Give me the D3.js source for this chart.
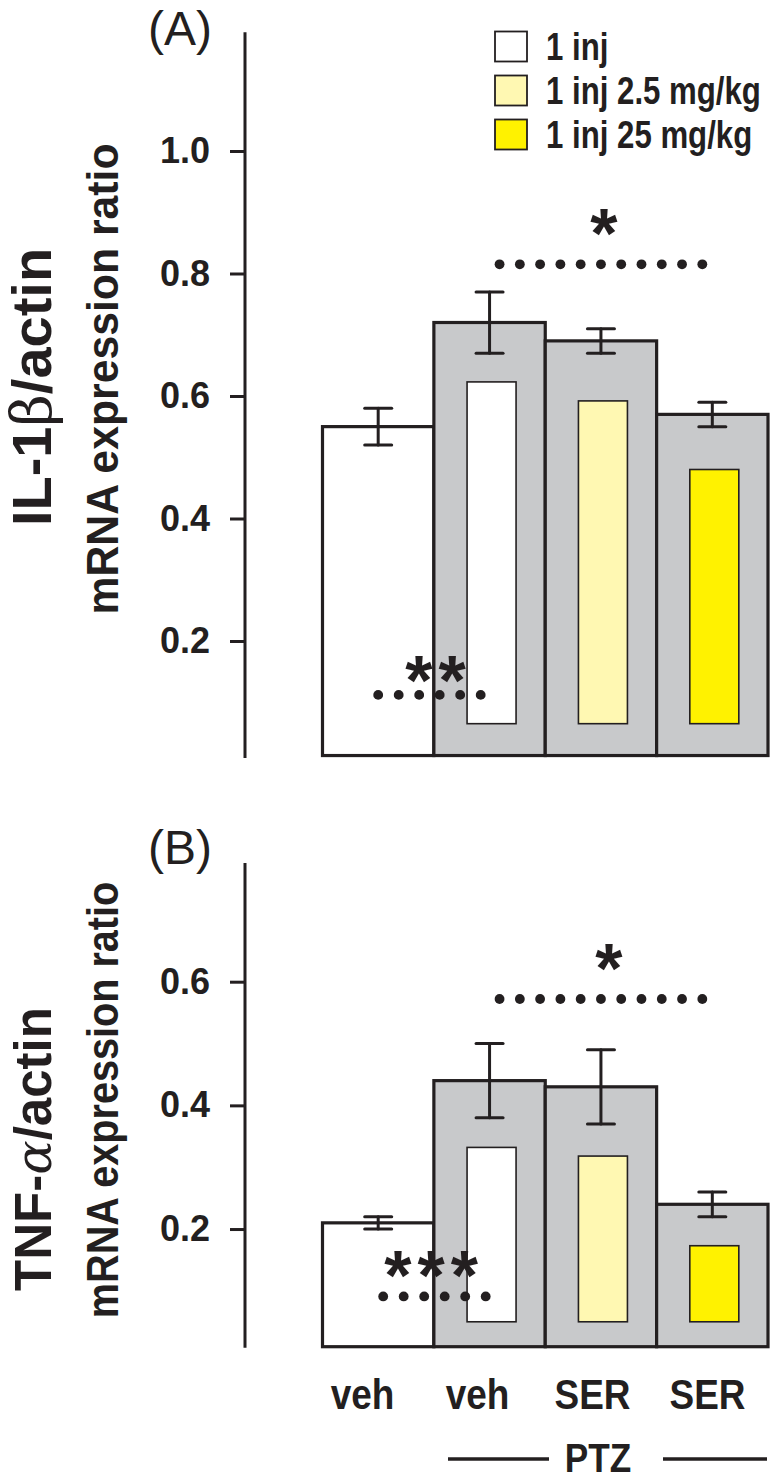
<!DOCTYPE html>
<html>
<head>
<meta charset="utf-8">
<script src="https://cdn.jsdelivr.net/npm/d3@7/dist/d3.min.js"></script>
<style>
  html, body { margin: 0; padding: 0; background: #fff; }
  svg { display: block; }
  text { font-family: "Liberation Sans", Arial, sans-serif; fill: #231f20; }
</style>
</head>
<body>
<div id="chart"></div>
<script>
// ---- Data
const groups = ['g1', 'g2', 'g3', 'g4'];
const groupLabels = ['veh', 'veh', 'SER', 'SER'];
const groupKind = ['control', 'ptz', 'ptz', 'ptz'];
const innerFill = [null, 'white', 'light', 'yellow'];

const il1bMean = [0.55, 0.72, 0.69, 0.57];
const il1bSem = [0.03, 0.05, 0.02, 0.02];
const il1bInnerTop = [null, 0.623, 0.592, 0.480];
const il1bInnerBase = 0.065;

const tnfMean = [0.21, 0.44, 0.43, 0.24];
const tnfSem = [0.01, 0.06, 0.06, 0.02];
const tnfInnerTop = [null, 0.332, 0.318, 0.173];
const tnfInnerBase = 0.05;

const ticksA = [0.2, 0.4, 0.6, 0.8, 1.0];
const ticksB = [0.2, 0.4, 0.6];

const legendLabels = ['1 inj', '1 inj 2.5 mg/kg', '1 inj 25 mg/kg'];
const legendKeys = ['white', 'light', 'yellow'];

// significance marks: level in data units
const sigA = [{ text: '**', level: 0.112, kind: 'low' }, { text: '*', level: 0.815, kind: 'high' }];
const sigB = [{ text: '***', level: 0.091, kind: 'low' }, { text: '*', level: 0.572, kind: 'high' }];

// ---- Styles
const ink = '#231f20';
const colors = { white: '#ffffff', light: '#fff8b2', yellow: '#fff200', gray: '#c8c9cb' };

const W = 774, H = 1481;
const svg = d3.select('#chart').append('svg').attr('width', W).attr('height', H);

const axisX = 245;
const x = d3.scaleBand().domain(groups).range([322.5, 768]).padding(0);
const xLabel = d3.scaleBand().domain(groups).range([305, 765]).padding(0);

function narrowText(g, str, tx, ty, size, sx, anchor) {
    return g.append('text')
        .attr('transform', `translate(${tx},${ty}) scale(${sx},1)`)
        .attr('text-anchor', anchor || 'middle')
        .style('font-size', `${size}px`)
        .style('font-weight', 'bold')
        .text(str);
}

function panel(cfg) {
    const y = d3.scaleLinear().domain(cfg.domain).range(cfg.range);
    const g = svg.append('g');

    // ---- Axis
    g.append('line')
        .attr('x1', axisX).attr('x2', axisX)
        .attr('y1', y(cfg.axisMin)).attr('y2', y(cfg.axisMax))
        .attr('stroke', ink).attr('stroke-width', 3);

    const ax = g.append('g')
        .attr('transform', `translate(${axisX},0)`)
        .call(d3.axisLeft(y).tickValues(cfg.ticks).tickSize(15).tickPadding(20).tickFormat(d3.format('.1f')));
    ax.select('.domain').remove();
    ax.selectAll('.tick line').attr('stroke', ink).attr('stroke-width', 3);
    ax.selectAll('.tick text')
        .attr('fill', ink)
        .style('font-family', '"Liberation Sans", Arial, sans-serif')
        .style('font-size', '36px')
        .style('font-weight', 'bold');

    // ---- Outer bars
    const base = y(cfg.baseline);
    g.selectAll('.bar')
        .data(groups)
        .join('rect')
        .attr('class', 'bar')
        .attr('x', d => x(d))
        .attr('width', x.bandwidth())
        .attr('y', (d, i) => y(cfg.mean[i]))
        .attr('height', (d, i) => base - y(cfg.mean[i]))
        .attr('fill', (d, i) => groupKind[i] === 'control' ? colors.white : colors.gray)
        .attr('stroke', ink)
        .attr('stroke-width', 3.2);

    // ---- Inner bars
    const innerW = 49;
    g.selectAll('.inner')
        .data(groups.filter((d, i) => cfg.innerTop[i] !== null))
        .join('rect')
        .attr('class', 'inner')
        .attr('x', d => x(d) + x.bandwidth() / 2 - innerW / 2 + 2)
        .attr('width', innerW)
        .attr('y', d => y(cfg.innerTop[groups.indexOf(d)]))
        .attr('height', d => y(cfg.innerBase) - y(cfg.innerTop[groups.indexOf(d)]))
        .attr('fill', d => colors[innerFill[groups.indexOf(d)]])
        .attr('stroke', ink)
        .attr('stroke-width', 1.6);

    // ---- Error bars
    const capW = 27;
    const eb = g.selectAll('.err').data(groups).join('g').attr('class', 'err')
        .attr('stroke', ink).attr('stroke-width', 3).attr('stroke-linecap', 'round');
    eb.append('line')
        .attr('x1', d => x(d) + x.bandwidth() / 2).attr('x2', d => x(d) + x.bandwidth() / 2)
        .attr('y1', (d, i) => y(cfg.mean[i] + cfg.sem[i])).attr('y2', (d, i) => y(cfg.mean[i] - cfg.sem[i]));
    eb.append('line')
        .attr('x1', d => x(d) + x.bandwidth() / 2 - capW / 2).attr('x2', d => x(d) + x.bandwidth() / 2 + capW / 2)
        .attr('y1', (d, i) => y(cfg.mean[i] + cfg.sem[i])).attr('y2', (d, i) => y(cfg.mean[i] + cfg.sem[i]));
    eb.append('line')
        .attr('x1', d => x(d) + x.bandwidth() / 2 - capW / 2).attr('x2', d => x(d) + x.bandwidth() / 2 + capW / 2)
        .attr('y1', (d, i) => y(cfg.mean[i] - cfg.sem[i])).attr('y2', (d, i) => y(cfg.mean[i] - cfg.sem[i]));

    // ---- Significance marks: dotted line with asterisks above it
    cfg.sig.forEach(s => {
        const yy = y(s.level);
        let xs;
        if (s.kind === 'low') {
            const x0 = x('g1') + x.bandwidth() / 2 + cfg.lowShift;
            xs = d3.range(6).map(k => x0 + k * 20.5);
        } else {
            const x0 = x('g2') + x.bandwidth() / 2 + 10;
            const x1 = x('g4') + x.bandwidth() / 2 - 10;
            xs = d3.range(11).map(k => x0 + k * (x1 - x0) / 10);
        }
        g.selectAll(null).data(xs).join('circle')
            .attr('cx', d => d).attr('cy', yy).attr('r', 4.9).attr('fill', ink);

        const star = g.append('text')
            .style('font-size', '70px')
            .style('font-weight', 'bold')
            .text(s.text);
        if (s.kind === 'low') {
            star.attr('x', xs[0] + cfg.starShift).attr('y', yy + cfg.starDrop)
                .attr('text-anchor', 'start')
                .style('letter-spacing', '6px');
        } else {
            star.attr('x', d3.mean(xs) + cfg.highShift).attr('y', yy - 6)
                .attr('text-anchor', 'middle');
        }
    });

    // ---- Panel letter
    g.append('text')
        .attr('x', 148).attr('y', cfg.letterY)
        .style('font-size', '48px')
        .text(cfg.letter);

    // ---- Y titles
    const t = g.append('text')
        .attr('transform', `translate(51,${cfg.titleY}) rotate(-90)`)
        .attr('text-anchor', 'middle')
        .style('font-size', `${cfg.titleSize}px`)
        .style('font-weight', 'bold');
    t.append('tspan').text(cfg.titleParts[0]);
    t.append('tspan').style('font-weight', 'normal').style('font-style', cfg.greekItalic ? 'italic' : 'normal')
        .style('font-family', '"DejaVu Serif", serif').text(cfg.titleParts[1]);
    t.append('tspan').text(cfg.titleParts[2]);

    g.append('text')
        .attr('transform', `translate(118,${cfg.subY}) rotate(-90) scale(${cfg.subScale},1)`)
        .attr('text-anchor', 'middle')
        .style('font-size', '45px')
        .style('font-weight', 'bold')
        .text('mRNA expression ratio');

    return y;
}

panel({
    domain: [0, 1], range: [763.5, 151], axisMin: 0.009, axisMax: 1.194, baseline: 0.013,
    ticks: ticksA, mean: il1bMean, sem: il1bSem, innerTop: il1bInnerTop, innerBase: il1bInnerBase,
    sig: sigA, lowShift: 0, starShift: 27, starDrop: 10, highShift: 3, letter: '(A)', letterY: 45,
    titleParts: ['IL-1', 'β', '/actin'], titleSize: 56, titleY: 387, greekItalic: false,
    subY: 379, subScale: 0.95
});

panel({
    domain: [0, 0.6], range: [1352.7, 981.7], axisMin: 0.008, axisMax: 0.792, baseline: 0.0097,
    ticks: ticksB, mean: tnfMean, sem: tnfSem, innerTop: tnfInnerTop, innerBase: tnfInnerBase,
    sig: sigB, lowShift: 5, starShift: 1, starDrop: 4, highShift: 8, letter: '(B)', letterY: 864,
    titleParts: ['TNF-', 'α', '/actin'], titleSize: 51, titleY: 1149, greekItalic: true,
    subY: 1100, subScale: 0.88
});

// ---- Legend
const legend = svg.append('g');
legendLabels.forEach((lab, i) => {
    const ly = 31.5 + i * 44;
    legend.append('rect')
        .attr('x', 495).attr('y', ly).attr('width', 32).attr('height', 30)
        .attr('fill', colors[legendKeys[i]])
        .attr('stroke', ink).attr('stroke-width', 1.8);
    narrowText(legend, lab, 546, ly + 28.5, 39, 0.8, 'start');
});

// ---- X labels
const xl = svg.append('g');
groups.forEach((gk, i) => {
    narrowText(xl, groupLabels[i], xLabel(gk) + xLabel.bandwidth() / 2, 1409, 43, 0.86, 'middle');
});

// PTZ bracket
narrowText(xl, 'PTZ', 598, 1472, 40, 0.88, 'middle');
xl.append('line').attr('x1', 448).attr('x2', 549).attr('y1', 1459).attr('y2', 1459)
    .attr('stroke', ink).attr('stroke-width', 3.5);
xl.append('line').attr('x1', 663).attr('x2', 767).attr('y1', 1459).attr('y2', 1459)
    .attr('stroke', ink).attr('stroke-width', 3.5);
</script>
</body>
</html>
